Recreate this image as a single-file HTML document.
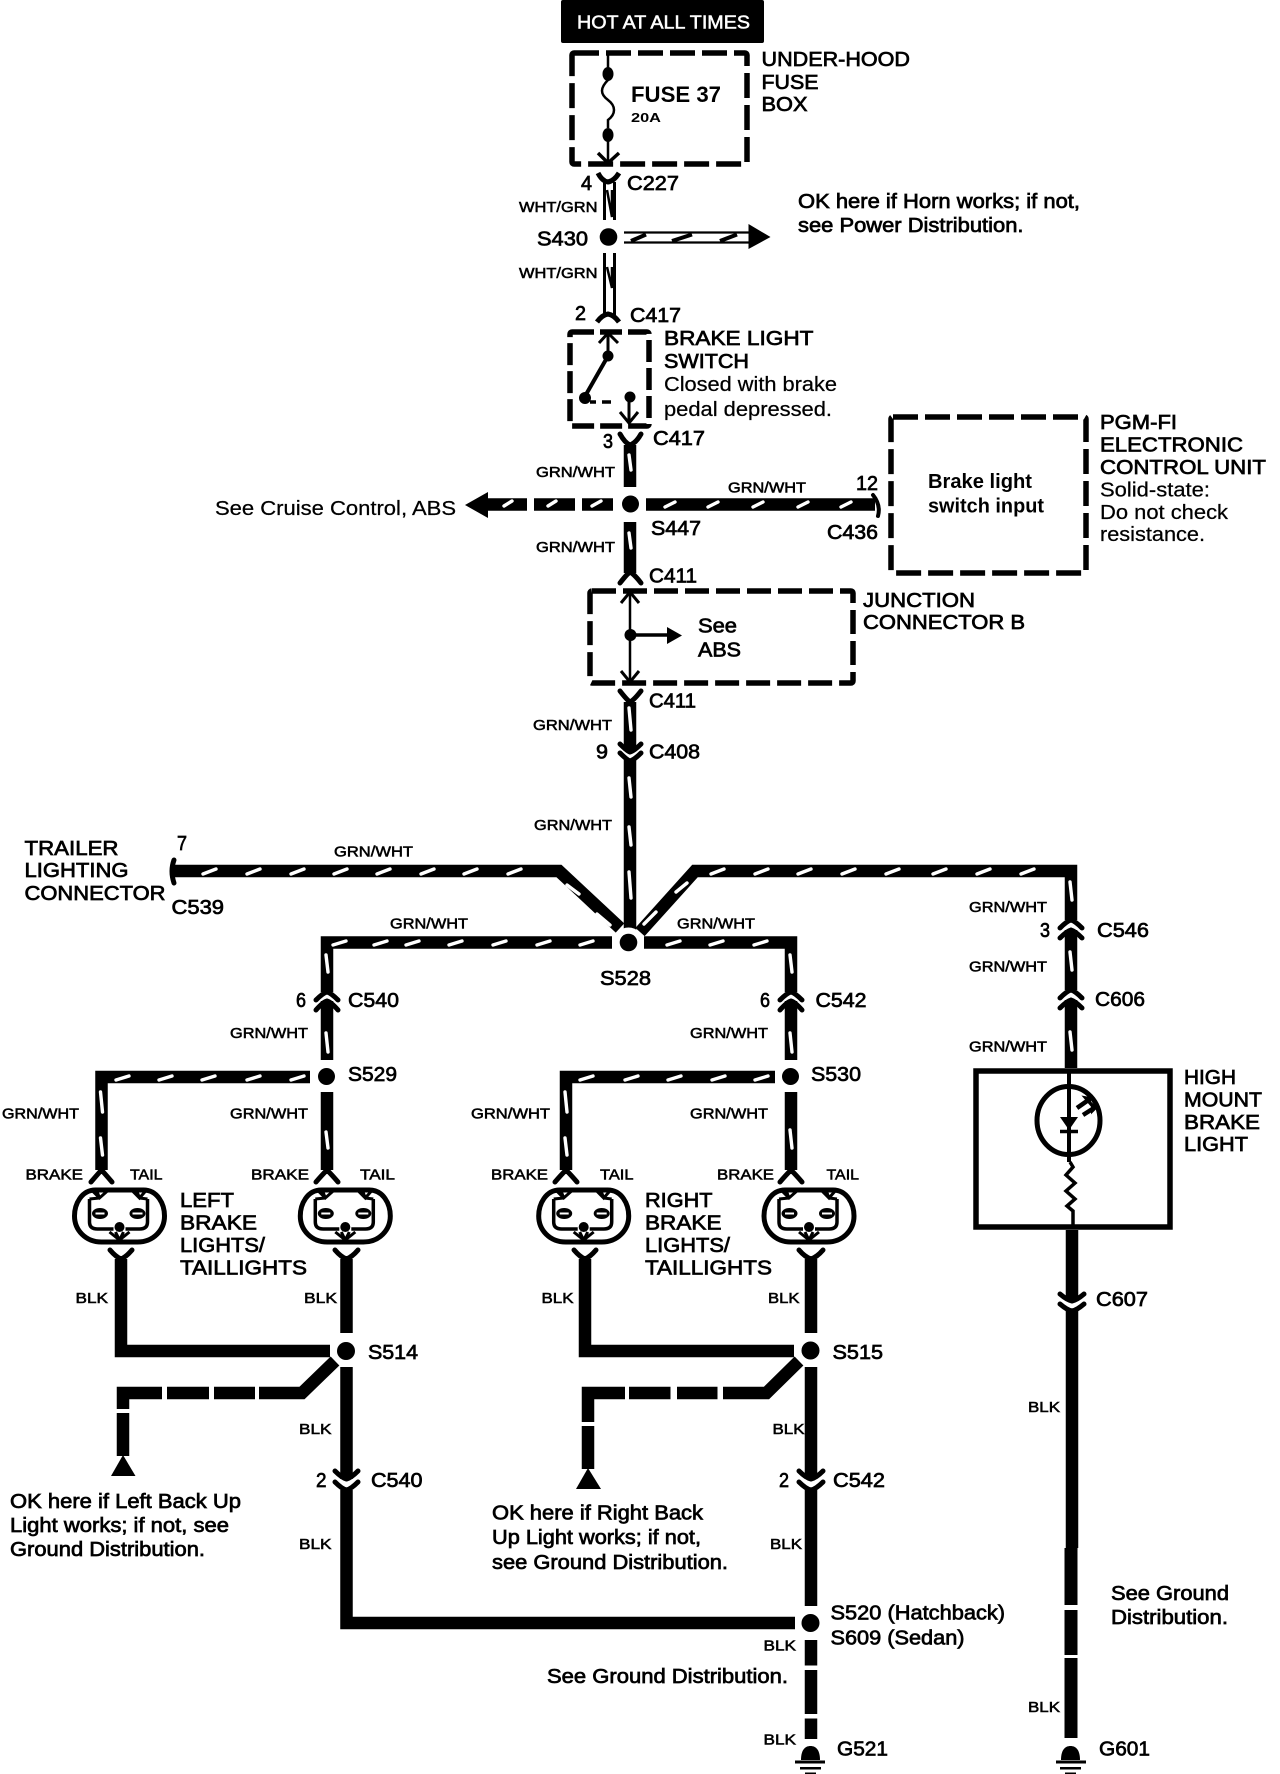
<!DOCTYPE html>
<html>
<head>
<meta charset="utf-8">
<title>Brake light wiring diagram</title>
<style>
html,body{margin:0;padding:0;background:#fff}
svg{display:block}
text{font-family:"Liberation Sans",sans-serif;fill:#000}
.l{stroke:#000;stroke-width:.25}
.b{font-weight:bold}
.s{font-size:15px;stroke:#000;stroke-width:.55}
.c{font-size:20px;stroke:#000;stroke-width:.7}
</style>
</head>
<body>
<svg width="1280" height="1774" viewBox="0 0 1280 1774" xmlns="http://www.w3.org/2000/svg">
<defs>
<g id="lamp" fill="none" stroke="#000">
<path stroke-width="5" d="M-24,-26H24C38,-26 45,-12 45,0C45,14 34,26 18,26H-18C-34,26 -45,14 -45,0C-45,-12 -38,-26 -24,-26Z"/>
<path stroke-width="3.500" d="M-30,-17V6Q-30,13 -22,13H-6M28,-17V6Q28,13 20,13H6"/>
<path stroke-width="3" d="M-28,-26L-20,-18L-11,-26M-23,-26L-20,-18M12,-26L20,-18L27,-26M17,-26L20,-18M-30,-17L-20,-18M28,-17L20,-18"/>
<path stroke-width="3" d="M-10,16L0,24L10,16M-4,16L0,24L4,16"/>
<circle cx="0" cy="11" r="5" fill="#000" stroke="none"/>
<ellipse cx="-19.500" cy="-2.500" rx="8" ry="5.500" fill="#000" stroke="none"/>
<ellipse cx="18" cy="-2.500" rx="8" ry="5.500" fill="#000" stroke="none"/>
<path stroke="#fff" stroke-width="2" d="M-24,-2.500H-15M13,-2.500H23"/>
</g>
</defs>

<!-- header -->
<rect x="561" y="0" width="203" height="43" rx="2" fill="#000"/>
<text x="577" y="28.500" font-size="18" textLength="173" lengthAdjust="spacingAndGlyphs" stroke="#fff" stroke-width=".5" style="fill:#fff">HOT AT ALL TIMES</text>

<!-- dashed boxes -->
<g fill="none" stroke="#000" stroke-width="5.500" stroke-dasharray="25 7">
<rect x="572" y="53" width="175" height="111" rx="2"/>
<rect x="570" y="332" width="79" height="94" rx="2" stroke-dasharray="22 6"/>
<rect x="891" y="417" width="195" height="156" rx="2"/>
<rect x="590" y="591" width="263" height="92" rx="2" stroke-dasharray="24 7"/>
</g>

<!-- fuse -->
<g fill="none" stroke="#000">
<path stroke-width="2.500" d="M608,53V74M608,135V163"/>
<path stroke-width="2.500" d="M608,80C600,88 600,94 608,100C616,106 616,114 608,120L608,128"/>
<path stroke-width="3.500" d="M598,153L608,163L619,153"/>
<path stroke-width="5" d="M598,173Q602,181 608,182Q614,181 619,173"/>
<path stroke-width="5" d="M597,322Q602,315 608,314Q614,315 619,322"/>
</g>
<ellipse cx="608" cy="74" rx="5.500" ry="7" fill="#000"/>
<ellipse cx="608" cy="135" rx="5.500" ry="7" fill="#000"/>

<!-- WHT/GRN wires -->
<g fill="none" stroke="#000">
<path stroke-width="3" d="M604.500,182V220M614.500,182V220M604.500,253V315M614.500,253V315"/>
<path stroke-width="2.500" d="M607,190L612,217L612,190M607,267L612,288L612,267"/>
<path stroke-width="2.200" d="M624,232.500H749M624,242.500H749"/>
<path stroke-width="4" d="M631,241L646,234.500M672,241L692,234.500M720,241L737,234.500"/>
</g>
<circle cx="608.500" cy="237" r="8.800" fill="#000"/>
<path d="M748.500,224L770.500,237L748.500,249Z" fill="#000"/>

<!-- brake switch interior -->
<g fill="none" stroke="#000">
<path stroke-width="3" d="M608,333V356M599,343L608,333L618,343"/>
<path stroke-width="4" d="M608,356L584,398"/>
<path stroke-width="3.500" d="M590,402H596M602,402H611"/>
<path stroke-width="3" d="M629,397V423M620,412L629,423L638,412"/>
</g>
<circle cx="608" cy="356" r="5.500" fill="#000"/>
<circle cx="585" cy="398" r="6" fill="#000"/>
<circle cx="630" cy="397" r="5.500" fill="#000"/>

<!-- thick black wires -->
<g fill="none" stroke="#000" stroke-width="12.500" stroke-linejoin="miter">
<path d="M630,445V487M630,522V573M630,702V751M630,760V930"/>
<path d="M646,504.500H875"/>
<path d="M173.500,871H559L620,928"/>
<path d="M1071,920V871H695L640,932"/>
<path d="M612,942.500H327V992M644,942.500H791V992"/>
<path d="M327,1001V1060M327,1092V1170"/>
<path d="M791,1001V1060M791,1092V1170"/>
<path d="M310,1077H101.500V1170"/>
<path d="M775,1077H566V1170"/>
<path d="M1071,930V990M1071,1000V1068"/>
<path d="M1072,1230V1301M1072,1311V1548"/>
<path d="M121,1259V1351H330"/>
<path d="M346.500,1259V1333M346.500,1367V1479M346.500,1490V1623H795"/>
<path d="M585,1259V1351H794"/>
<path d="M811,1259V1333M811,1367V1479M811,1490V1606"/>
<path d="M811,1640V1665.500M811,1670V1714M811,1718.500V1739"/>
<path d="M1071,1548V1605M1071,1610V1655M1071,1658V1738" stroke-width="13"/>
<path d="M534,504.500H575M582,504.500H613M486,504.500H527"/>
<path d="M162,1393H123V1409M123,1413V1456M167,1393H209M214,1393H255M259,1393H302L335,1361"/>
<path d="M625,1393H588V1422M588,1426V1469M629,1393H670.500M677,1393H717.500M723,1393H766.500L799,1361"/>
</g>

<!-- connector cups -->
<g fill="none" stroke="#000" stroke-width="5" stroke-linecap="round">
<path d="M620,434Q625,443 630,445Q636,443 641,434"/>
<path d="M620,583Q627,574 630,572Q634,574 641,583"/>
<path d="M620,691Q627,700 630,702Q634,700 641,691"/>
<path d="M620,744Q627,751 630,752Q634,751 641,744M620,753Q627,760 630,761Q634,760 641,753"/>
<path d="M316,1000Q323,993 327,992Q331,993 338,1000M316,1010Q323,1002 327,1001Q331,1002 338,1010"/>
<path d="M780,1000Q787,993 791,992Q795,993 802,1000M780,1010Q787,1002 791,1001Q795,1002 802,1010"/>
<path d="M1060,928Q1067,921 1071,920Q1075,921 1082,928M1060,938Q1067,931 1071,930Q1075,931 1082,938"/>
<path d="M1060,998Q1067,991 1071,990Q1075,991 1082,998M1060,1008Q1067,1001 1071,1000Q1075,1001 1082,1008"/>
<path d="M91,1182Q97,1175 101.500,1170Q106,1175 112,1182M316,1182Q322,1175 327,1170Q332,1175 338,1182M555,1182Q561,1175 566,1170Q571,1175 577,1182M780,1182Q786,1175 791,1170Q796,1175 802,1182"/>
<path d="M110,1250Q116,1257 121,1259Q126,1257 132,1250M335,1250Q341,1257 346.500,1259Q352,1257 358,1250M574,1250Q580,1257 585,1259Q590,1257 596,1250M799,1250Q805,1257 811,1259Q817,1257 823,1250"/>
<path d="M335,1471Q342,1478 346.500,1479Q351,1478 358,1471M335,1482Q342,1489 346.500,1490Q351,1489 358,1482"/>
<path d="M799,1471Q806,1478 811,1479Q816,1478 823,1471M799,1482Q806,1489 811,1490Q816,1489 823,1482"/>
<path d="M1060,1294Q1067,1300 1072,1301Q1077,1300 1084,1294M1060,1304Q1067,1310 1072,1311Q1077,1310 1084,1304"/>
<path d="M174,860Q170,871 174,883"/>
<path d="M873,495Q881,505 878,516" stroke-width="4"/>
</g>

<!-- arrowheads -->
<path d="M488,492L465,505L488,518Z" fill="#000"/>
<path d="M123,1455L111,1476H135.500Z" fill="#000"/>
<path d="M588,1468L576,1489H601Z" fill="#000"/>

<!-- junction connector interior -->
<g fill="none" stroke="#000">
<path stroke-width="2.500" d="M630,592V682"/>
<path stroke-width="3" d="M621,603L630,592L639,603M621,671L630,682L639,671"/>
<path stroke-width="3.500" d="M630,635H668"/>
</g>
<circle cx="630.500" cy="635" r="6" fill="#000"/>
<path d="M667,627L682,635.500L667,644Z" fill="#000"/>

<!-- white stripes -->
<g fill="none" stroke="#fff" stroke-width="3.400" stroke-linecap="round">
<path d="M504,506L512,501M548,506L556,501M592,506L601,501M665,507L675,502M708,507L718,502M753,507L763,502M798,507L808,502M841,507L851,502"/>
<path d="M203,874L216,869M247,874L260,869M291,874L304,869M334,874L347,869M377,874L390,869M421,874L434,869M464,874L477,869M508,874L521,869"/>
<path d="M567,885L579,894M597,914L610,925M676,892L687,883M644,924L656,912"/>
<path d="M711,874L724,869M755,874L768,869M798,874L811,869M842,874L855,869M886,874L899,869M933,874L946,869M977,874L990,869M1021,874L1034,869"/>
<path d="M333,945L346,941M374,945L387,941M406,945L419,941M449,945L462,941M493,945L506,941M537,945L550,941M580,945L593,941M667,945L680,941M710,945L723,941M754,945L767,941"/>
<path d="M116,1080L129,1076M159,1080L172,1076M202,1080L215,1076M247,1080L260,1076M291,1080L304,1076M580,1080L593,1076M625,1080L638,1076M668,1080L681,1076M712,1080L725,1076M755,1080L768,1076"/>
<path d="M326,955L328,972M326,1033L328,1052M326,1132L328,1148M100.500,1092L102.500,1112M100.500,1138L102.500,1155M565,1092L567,1112M565,1138L567,1155M790,955L792,972M790,1033L792,1052M790,1130L792,1148"/>
<path d="M1070,882L1072,900M1070,952L1072,970M1070,1032L1072,1050"/>
<path d="M629,455L631,470M629,533L631,548M629,708L631,730M629,778L631,797M629,827L631,845M629,872L631,898"/>
</g>

<!-- splices -->
<circle cx="630.500" cy="504" r="8.500" fill="#000"/>
<circle cx="628.500" cy="942.500" r="15" fill="#fff"/>
<circle cx="628.500" cy="942.500" r="8.800" fill="#000"/>
<circle cx="326.500" cy="1076.500" r="8.500" fill="#000"/>
<circle cx="790.500" cy="1076.500" r="8.500" fill="#000"/>
<circle cx="346" cy="1351" r="14" fill="#fff"/>
<circle cx="346" cy="1351" r="9" fill="#000"/>
<circle cx="810.500" cy="1350.500" r="14" fill="#fff"/>
<circle cx="810.500" cy="1350.500" r="9" fill="#000"/>
<circle cx="810.500" cy="1623" r="14" fill="#fff"/>
<circle cx="810.500" cy="1623" r="9" fill="#000"/>

<!-- lamps -->
<use href="#lamp" x="119.500" y="1216"/>
<use href="#lamp" x="345.300" y="1216"/>
<use href="#lamp" x="583.700" y="1216"/>
<use href="#lamp" x="809" y="1216"/>

<!-- high mount brake light -->
<rect x="976" y="1071" width="194" height="156" fill="none" stroke="#000" stroke-width="5.500"/>
<ellipse cx="1068.500" cy="1120.500" rx="31.500" ry="34" fill="none" stroke="#000" stroke-width="5"/>
<path d="M1069,1071V1162" fill="none" stroke="#000" stroke-width="4"/>
<path d="M1070,1162L1073,1167L1066,1175L1075,1183L1066,1191L1075,1199L1067,1206L1073,1211V1228" fill="none" stroke="#000" stroke-width="3.500"/>
<path d="M1060,1117H1078L1069,1130Z" fill="#000"/>
<path d="M1060,1131.500H1078" stroke="#000" stroke-width="3.500"/>
<path d="M1077,1108L1087,1101M1083,1115L1094,1108" stroke="#000" stroke-width="4.500"/>
<path d="M1084,1097L1090,1098L1090,1104Z" fill="#000" stroke="#000" stroke-width="2"/>
<path d="M1092,1104L1096,1108L1092,1112Z" fill="#000" stroke="#000" stroke-width="2"/>

<!-- grounds -->
<g fill="#000">
<path d="M801,1760C801,1750 805,1746 810.500,1746C816,1746 820,1750 820,1760Z"/>
<rect x="795" y="1760.500" width="30" height="3"/>
<rect x="800" y="1767" width="21" height="2.500"/>
<rect x="805" y="1772.500" width="11" height="1.500"/>
<path d="M1061,1760C1061,1750 1065,1746 1070.500,1746C1076,1746 1080,1750 1080,1760Z"/>
<rect x="1056" y="1760.500" width="30" height="3"/>
<rect x="1060" y="1767" width="21" height="2.500"/>
<rect x="1065" y="1772.500" width="11" height="1.500"/>
</g>

<!-- top labels -->
<text class="b" x="631" y="102" font-size="22" textLength="90" lengthAdjust="spacingAndGlyphs">FUSE 37</text>
<text class="b" x="631" y="122" font-size="12.500" textLength="30" lengthAdjust="spacingAndGlyphs">20A</text>
<text class="c" x="761.500" y="66" textLength="148.500" lengthAdjust="spacingAndGlyphs">UNDER-HOOD</text>
<text class="c" x="761.500" y="89" textLength="57" lengthAdjust="spacingAndGlyphs">FUSE</text>
<text class="c" x="761.500" y="111" textLength="46" lengthAdjust="spacingAndGlyphs">BOX</text>
<text class="c" x="581" y="190" textLength="11" lengthAdjust="spacingAndGlyphs">4</text>
<text class="c" x="627" y="190" textLength="52" lengthAdjust="spacingAndGlyphs">C227</text>
<text class="s" x="519" y="212" textLength="78.500" lengthAdjust="spacingAndGlyphs">WHT/GRN</text>
<text class="c" x="537" y="245.500" textLength="51" lengthAdjust="spacingAndGlyphs">S430</text>
<text class="s" x="519" y="278" textLength="78.500" lengthAdjust="spacingAndGlyphs">WHT/GRN</text>
<text class="c" x="798" y="208" font-size="21" textLength="282" lengthAdjust="spacingAndGlyphs">OK here if Horn works; if not,</text>
<text class="c" x="798" y="232" font-size="21" textLength="225.500" lengthAdjust="spacingAndGlyphs">see Power Distribution.</text>
<text class="c" x="575" y="320" textLength="11" lengthAdjust="spacingAndGlyphs">2</text>
<text class="c" x="630" y="322" textLength="51" lengthAdjust="spacingAndGlyphs">C417</text>
<text class="c" x="664" y="345" textLength="149.500" lengthAdjust="spacingAndGlyphs">BRAKE LIGHT</text>
<text class="c" x="664" y="368" textLength="85" lengthAdjust="spacingAndGlyphs">SWITCH</text>
<text class="l" x="664" y="391" font-size="20" textLength="173" lengthAdjust="spacingAndGlyphs">Closed with brake</text>
<text class="l" x="664" y="416" font-size="20" textLength="168" lengthAdjust="spacingAndGlyphs">pedal depressed.</text>

<!-- middle labels -->
<text class="c" x="603" y="448" textLength="10" lengthAdjust="spacingAndGlyphs">3</text>
<text class="c" x="653" y="445" textLength="52" lengthAdjust="spacingAndGlyphs">C417</text>
<text class="s" x="536" y="477" textLength="79" lengthAdjust="spacingAndGlyphs">GRN/WHT</text>
<text class="s" x="536" y="552" textLength="79" lengthAdjust="spacingAndGlyphs">GRN/WHT</text>
<text class="s" x="728" y="492.500" textLength="78" lengthAdjust="spacingAndGlyphs">GRN/WHT</text>
<text class="c" x="856" y="490" textLength="22" lengthAdjust="spacingAndGlyphs">12</text>
<text class="l" x="215" y="515" font-size="20" textLength="241" lengthAdjust="spacingAndGlyphs">See Cruise Control, ABS</text>
<text class="c" x="651" y="535" textLength="50" lengthAdjust="spacingAndGlyphs">S447</text>
<text class="c" x="827" y="539" textLength="51" lengthAdjust="spacingAndGlyphs">C436</text>
<text class="b" x="928" y="488" font-size="20" textLength="104" lengthAdjust="spacingAndGlyphs">Brake light</text>
<text class="b" x="928" y="512.500" font-size="20" textLength="116" lengthAdjust="spacingAndGlyphs">switch input</text>
<text class="c" x="1100" y="429" textLength="77" lengthAdjust="spacingAndGlyphs">PGM-FI</text>
<text class="c" x="1100" y="451.500" textLength="143" lengthAdjust="spacingAndGlyphs">ELECTRONIC</text>
<text class="c" x="1100" y="474" textLength="166" lengthAdjust="spacingAndGlyphs">CONTROL UNIT</text>
<text class="l" x="1100" y="496.500" font-size="20" textLength="110" lengthAdjust="spacingAndGlyphs">Solid-state:</text>
<text class="l" x="1100" y="519" font-size="20" textLength="128" lengthAdjust="spacingAndGlyphs">Do not check</text>
<text class="l" x="1100" y="541" font-size="20" textLength="105" lengthAdjust="spacingAndGlyphs">resistance.</text>
<text class="c" x="649" y="582.500" textLength="48" lengthAdjust="spacingAndGlyphs">C411</text>
<text class="c" x="698" y="632.500" textLength="39" lengthAdjust="spacingAndGlyphs">See</text>
<text class="c" x="698" y="656.500" textLength="43" lengthAdjust="spacingAndGlyphs">ABS</text>
<text class="c" x="863" y="607" textLength="112" lengthAdjust="spacingAndGlyphs">JUNCTION</text>
<text class="c" x="863" y="629" textLength="162" lengthAdjust="spacingAndGlyphs">CONNECTOR B</text>
<text class="c" x="649" y="707.500" textLength="47" lengthAdjust="spacingAndGlyphs">C411</text>
<text class="s" x="533" y="730" textLength="79" lengthAdjust="spacingAndGlyphs">GRN/WHT</text>
<text class="c" x="596" y="758.500" textLength="12" lengthAdjust="spacingAndGlyphs">9</text>
<text class="c" x="649" y="758.500" textLength="51" lengthAdjust="spacingAndGlyphs">C408</text>
<text class="s" x="534" y="830" textLength="78" lengthAdjust="spacingAndGlyphs">GRN/WHT</text>

<text class="c" x="24.500" y="855" textLength="94" lengthAdjust="spacingAndGlyphs">TRAILER</text>
<text class="c" x="24.500" y="877" textLength="104" lengthAdjust="spacingAndGlyphs">LIGHTING</text>
<text class="c" x="24.500" y="900" textLength="141" lengthAdjust="spacingAndGlyphs">CONNECTOR</text>
<text class="c" x="177" y="850" textLength="10" lengthAdjust="spacingAndGlyphs">7</text>
<text class="c" x="171.500" y="914" textLength="52.500" lengthAdjust="spacingAndGlyphs">C539</text>
<text class="s" x="334" y="856.500" textLength="79" lengthAdjust="spacingAndGlyphs">GRN/WHT</text>
<text class="s" x="390" y="928.500" textLength="78" lengthAdjust="spacingAndGlyphs">GRN/WHT</text>
<text class="s" x="677" y="928.500" textLength="78" lengthAdjust="spacingAndGlyphs">GRN/WHT</text>
<text class="c" x="600" y="985" textLength="51" lengthAdjust="spacingAndGlyphs">S528</text>
<text class="s" x="969" y="912" textLength="78" lengthAdjust="spacingAndGlyphs">GRN/WHT</text>
<text class="s" x="969" y="971.500" textLength="78" lengthAdjust="spacingAndGlyphs">GRN/WHT</text>
<text class="s" x="969" y="1051.500" textLength="78" lengthAdjust="spacingAndGlyphs">GRN/WHT</text>
<text class="c" x="1040" y="937" textLength="10" lengthAdjust="spacingAndGlyphs">3</text>
<text class="c" x="1097" y="937" textLength="52" lengthAdjust="spacingAndGlyphs">C546</text>
<text class="c" x="1095" y="1006" textLength="50" lengthAdjust="spacingAndGlyphs">C606</text>

<text class="c" x="296" y="1007" textLength="10" lengthAdjust="spacingAndGlyphs">6</text>
<text class="c" x="348" y="1007" textLength="51" lengthAdjust="spacingAndGlyphs">C540</text>
<text class="c" x="760" y="1007" textLength="10" lengthAdjust="spacingAndGlyphs">6</text>
<text class="c" x="815.500" y="1007" textLength="51" lengthAdjust="spacingAndGlyphs">C542</text>
<text class="s" x="230" y="1038" textLength="78" lengthAdjust="spacingAndGlyphs">GRN/WHT</text>
<text class="s" x="690" y="1038" textLength="78" lengthAdjust="spacingAndGlyphs">GRN/WHT</text>
<text class="c" x="348" y="1081" textLength="49" lengthAdjust="spacingAndGlyphs">S529</text>
<text class="c" x="811" y="1081" textLength="50" lengthAdjust="spacingAndGlyphs">S530</text>
<text class="s" x="2" y="1118.500" textLength="77" lengthAdjust="spacingAndGlyphs">GRN/WHT</text>
<text class="s" x="230" y="1118.500" textLength="78" lengthAdjust="spacingAndGlyphs">GRN/WHT</text>
<text class="s" x="471" y="1118.500" textLength="79" lengthAdjust="spacingAndGlyphs">GRN/WHT</text>
<text class="s" x="690" y="1118.500" textLength="78" lengthAdjust="spacingAndGlyphs">GRN/WHT</text>

<text class="c" x="1184" y="1084" textLength="52" lengthAdjust="spacingAndGlyphs">HIGH</text>
<text class="c" x="1184" y="1106.500" textLength="78" lengthAdjust="spacingAndGlyphs">MOUNT</text>
<text class="c" x="1184" y="1129" textLength="76" lengthAdjust="spacingAndGlyphs">BRAKE</text>
<text class="c" x="1184" y="1151" textLength="64" lengthAdjust="spacingAndGlyphs">LIGHT</text>

<!-- lamp labels -->
<text class="s" x="25.500" y="1179.500" textLength="57.500" lengthAdjust="spacingAndGlyphs">BRAKE</text>
<text class="s" x="130" y="1179.500" textLength="32.500" lengthAdjust="spacingAndGlyphs">TAIL</text>
<text class="s" x="251" y="1179.500" textLength="58" lengthAdjust="spacingAndGlyphs">BRAKE</text>
<text class="s" x="360" y="1179.500" textLength="35" lengthAdjust="spacingAndGlyphs">TAIL</text>
<text class="s" x="491" y="1179.500" textLength="57" lengthAdjust="spacingAndGlyphs">BRAKE</text>
<text class="s" x="600" y="1179.500" textLength="33.500" lengthAdjust="spacingAndGlyphs">TAIL</text>
<text class="s" x="717" y="1179.500" textLength="57" lengthAdjust="spacingAndGlyphs">BRAKE</text>
<text class="s" x="826.500" y="1179.500" textLength="32.500" lengthAdjust="spacingAndGlyphs">TAIL</text>

<text class="c" x="180" y="1207" textLength="54" lengthAdjust="spacingAndGlyphs">LEFT</text>
<text class="c" x="180" y="1229.500" textLength="77" lengthAdjust="spacingAndGlyphs">BRAKE</text>
<text class="c" x="180" y="1252" textLength="85" lengthAdjust="spacingAndGlyphs">LIGHTS/</text>
<text class="c" x="180" y="1274.500" textLength="127" lengthAdjust="spacingAndGlyphs">TAILLIGHTS</text>
<text class="c" x="645" y="1207" textLength="67.500" lengthAdjust="spacingAndGlyphs">RIGHT</text>
<text class="c" x="645" y="1229.500" textLength="76.500" lengthAdjust="spacingAndGlyphs">BRAKE</text>
<text class="c" x="645" y="1252" textLength="85" lengthAdjust="spacingAndGlyphs">LIGHTS/</text>
<text class="c" x="645" y="1274.500" textLength="127" lengthAdjust="spacingAndGlyphs">TAILLIGHTS</text>

<!-- bottom labels -->
<text class="s" x="75.500" y="1303" textLength="32.500" lengthAdjust="spacingAndGlyphs">BLK</text>
<text class="s" x="304" y="1303" textLength="33" lengthAdjust="spacingAndGlyphs">BLK</text>
<text class="s" x="541.500" y="1303" textLength="32" lengthAdjust="spacingAndGlyphs">BLK</text>
<text class="s" x="768" y="1303" textLength="31.500" lengthAdjust="spacingAndGlyphs">BLK</text>
<text class="s" x="1028" y="1412" textLength="32" lengthAdjust="spacingAndGlyphs">BLK</text>
<text class="s" x="299" y="1434" textLength="32.500" lengthAdjust="spacingAndGlyphs">BLK</text>
<text class="s" x="772.500" y="1434" textLength="32" lengthAdjust="spacingAndGlyphs">BLK</text>
<text class="s" x="299" y="1549" textLength="32.500" lengthAdjust="spacingAndGlyphs">BLK</text>
<text class="s" x="770" y="1549" textLength="32" lengthAdjust="spacingAndGlyphs">BLK</text>
<text class="s" x="763.500" y="1650.500" textLength="32.500" lengthAdjust="spacingAndGlyphs">BLK</text>
<text class="s" x="763.500" y="1744.500" textLength="32.500" lengthAdjust="spacingAndGlyphs">BLK</text>
<text class="s" x="1028" y="1712" textLength="32" lengthAdjust="spacingAndGlyphs">BLK</text>

<text class="c" x="368" y="1359" textLength="50" lengthAdjust="spacingAndGlyphs">S514</text>
<text class="c" x="832.500" y="1359" textLength="50.500" lengthAdjust="spacingAndGlyphs">S515</text>
<text class="c" x="316" y="1487" textLength="10.500" lengthAdjust="spacingAndGlyphs">2</text>
<text class="c" x="371" y="1487" textLength="51.500" lengthAdjust="spacingAndGlyphs">C540</text>
<text class="c" x="779" y="1487" textLength="10" lengthAdjust="spacingAndGlyphs">2</text>
<text class="c" x="833" y="1487" textLength="52" lengthAdjust="spacingAndGlyphs">C542</text>
<text class="c" x="1096" y="1306" textLength="52" lengthAdjust="spacingAndGlyphs">C607</text>

<text class="c" x="10" y="1508" textLength="231" lengthAdjust="spacingAndGlyphs">OK here if Left Back Up</text>
<text class="c" x="10" y="1532" textLength="219" lengthAdjust="spacingAndGlyphs">Light works; if not, see</text>
<text class="c" x="10" y="1556" textLength="195" lengthAdjust="spacingAndGlyphs">Ground Distribution.</text>
<text class="c" x="492" y="1519.500" textLength="211" lengthAdjust="spacingAndGlyphs">OK here if Right Back</text>
<text class="c" x="492" y="1544" textLength="209" lengthAdjust="spacingAndGlyphs">Up Light works; if not,</text>
<text class="c" x="492" y="1569" textLength="236" lengthAdjust="spacingAndGlyphs">see Ground Distribution.</text>

<text class="c" x="830.500" y="1619.500" textLength="174.500" lengthAdjust="spacingAndGlyphs">S520 (Hatchback)</text>
<text class="c" x="830.500" y="1644.500" textLength="134" lengthAdjust="spacingAndGlyphs">S609 (Sedan)</text>
<text class="c" x="547" y="1683" textLength="241" lengthAdjust="spacingAndGlyphs">See Ground Distribution.</text>
<text class="c" x="1111" y="1600" textLength="118" lengthAdjust="spacingAndGlyphs">See Ground</text>
<text class="c" x="1111" y="1624" textLength="117" lengthAdjust="spacingAndGlyphs">Distribution.</text>
<text class="c" x="837" y="1755.500" textLength="51" lengthAdjust="spacingAndGlyphs">G521</text>
<text class="c" x="1099" y="1755.500" textLength="51" lengthAdjust="spacingAndGlyphs">G601</text>
</svg>
</body>
</html>
